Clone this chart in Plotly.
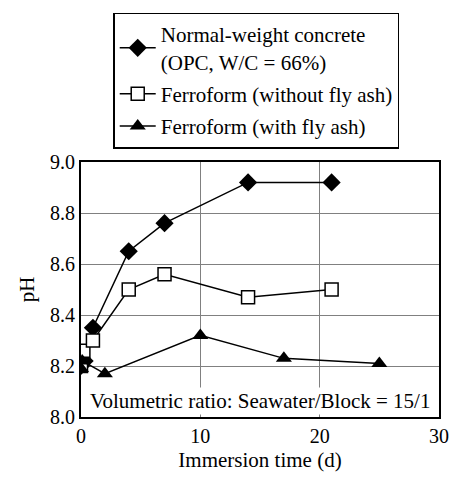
import plotly.graph_objects as go

nwc_x = [0, 0.3, 1, 4, 7, 14, 21]
nwc_y = [8.20, 8.22, 8.35, 8.65, 8.76, 8.92, 8.92]
ff_x = [0, 0.2, 1, 4, 7, 14, 21]
ff_y = [8.20, 8.26, 8.30, 8.50, 8.56, 8.47, 8.50]
fa_x = [0, 0.1, 2, 10, 17, 25]
fa_y = [8.19, 8.22, 8.17, 8.32, 8.23, 8.21]

names = ["Normal-weight concrete<br>(OPC, W/C = 66%)",
         "Ferroform (without fly ash)",
         "Ferroform (with fly ash)"]

FONT = "Liberation Serif"

fig = go.Figure()
fig.add_trace(go.Scatter(x=nwc_x, y=nwc_y, name=names[0], mode="lines+markers",
                         line=dict(color="black", width=1.5),
                         marker=dict(symbol="diamond", size=14, color="black"),
                         legendgroup="a"))
fig.add_trace(go.Scatter(x=ff_x, y=ff_y, name=names[1], mode="lines+markers",
                         line=dict(color="black", width=1.5),
                         marker=dict(symbol="square", size=13, color="white",
                                     line=dict(color="black", width=1.5)),
                         legendgroup="b"))
fig.add_trace(go.Scatter(x=fa_x, y=fa_y, name=names[2], mode="lines+markers",
                         line=dict(color="black", width=1.5),
                         marker=dict(symbol="triangle-up", size=14, color="black"),
                         legendgroup="c"))

fig.add_annotation(x=0.5, y=0.062, xref="paper", yref="paper", xanchor="center", yanchor="middle",
                   text="Volumetric ratio: Seawater/Block = 15/1", showarrow=False,
                   font=dict(size=21, color="black", family=FONT), bgcolor="white")

fig.update_layout(
    width=460, height=479,
    margin=dict(l=81, r=11, t=162, b=59),
    paper_bgcolor="white", plot_bgcolor="white",
    font=dict(family=FONT, size=20, color="black"),
    showlegend=True,
    legend=dict(x=0.09, y=1.586, xanchor="left", yanchor="top",
                bordercolor="black", borderwidth=1.5, bgcolor="white",
                font=dict(size=21, family=FONT, color="black"), tracegroupgap=2,
                traceorder="grouped", itemwidth=36),
    xaxis=dict(range=[0, 30], tickvals=[0, 10, 20, 30], showgrid=True, gridcolor="#808080",
               gridwidth=1.2, showline=True, linecolor="black", linewidth=2, mirror=True,
               zeroline=False, ticks="", tickfont=dict(family=FONT, size=20, color="black"),
               title=dict(text="Immersion time (d)", standoff=6,
                          font=dict(family=FONT, size=21, color="black"))),
    yaxis=dict(range=[8.0, 9.0], tickvals=[8.0, 8.2, 8.4, 8.6, 8.8, 9.0],
               ticktext=["8.0", "8.2", "8.4", "8.6", "8.8", "9.0"], showgrid=True,
               gridcolor="#808080", gridwidth=1.2, showline=True, linecolor="black", linewidth=2,
               mirror=True, zeroline=False, ticks="",
               tickfont=dict(family=FONT, size=20, color="black"),
               title=dict(text="pH", standoff=10, font=dict(family=FONT, size=21, color="black"))),
)

fig.write_html("out.html")
